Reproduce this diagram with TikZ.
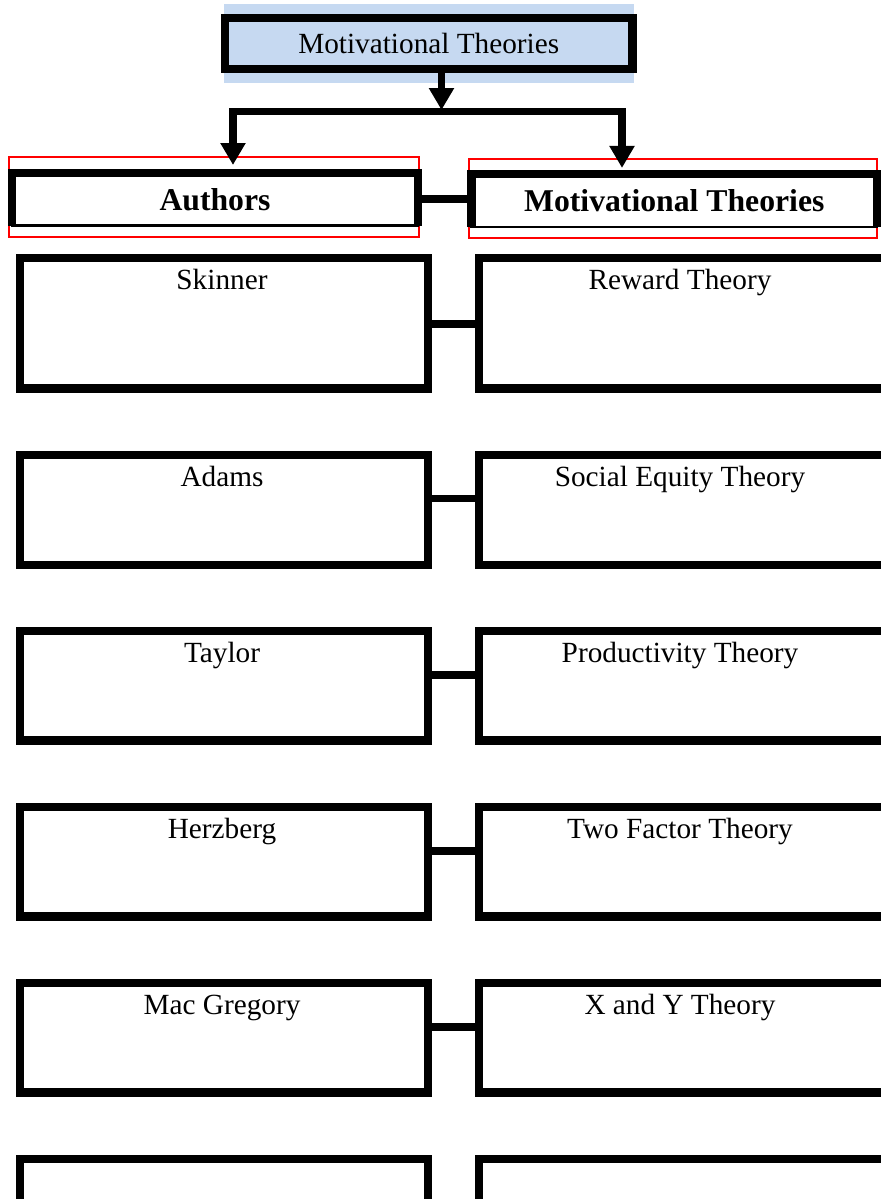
\documentclass[tikz,border=0pt]{standalone}
\usepackage{fontspec}
\setmainfont{Liberation Serif}
\usetikzlibrary{arrows.meta,calc}
\definecolor{headblue}{RGB}{198,217,241}
\begin{document}
\begin{tikzpicture}[x=0.41pt,y=-0.41pt,line join=miter,
	>={Triangle[width=9.8pt,length=9pt]},
	box/.style={draw,line width=3.3pt,inner sep=0pt,outer sep=0pt,minimum width=408*0.41pt,minimum height=#1*0.41pt},
	rbox/.style={box=#1,minimum width=410*0.41pt},
	head/.style={draw,line width=1.2pt,inner sep=0pt,outer sep=0pt,font=\fontsize{13}{15}\selectfont\bfseries},
	redframe/.style={draw=red,line width=0.55pt,inner sep=0pt,outer sep=0pt},
	link/.style={line width=3.2pt},
	txt/.style={anchor=base,inner sep=0pt,font=\fontsize{12}{14}\selectfont}]
	\useasboundingbox (0,0) rectangle (881,1199);
	\clip (0,0) rectangle (881,1199);
	% tieu de
	\fill[headblue] (224,4) rectangle (634,83);
	\node[draw,fill=headblue,line width=3.3pt,inner sep=0pt,outer sep=0pt,minimum width=407.5*0.41pt,minimum height=51*0.41pt,font=\fontsize{12}{14}\selectfont] (top) at (428.75,43.5) {Motivational Theories};
	\node[redframe,minimum width=410*0.41pt,minimum height=80*0.41pt] (selA) at (214,197) {};
	\node[redframe,minimum width=408*0.41pt,minimum height=79*0.41pt] (selT) at (673,198.5) {};
	\node[head,minimum width=406*0.41pt,minimum height=52.5*0.41pt] (authors) at (215,199.25) {Authors};
	\node[head,minimum width=405.5*0.41pt,minimum height=53*0.41pt] (theories) at (674.25,200.5) {Motivational Theories};
	\draw[line width=3.3pt] (authors.south west) |- (authors.north east) -- (authors.south east);
	\draw[line width=3.3pt] (theories.south west) |- (theories.north east) -- (theories.south east);
	\draw[link] (authors.east) -- (authors.east -| theories.west);
	\coordinate (stem) at (441.5,110);
	\coordinate (busL) at (233,111.5);
	\coordinate (busR) at (622,111.5);
	\draw[link,->] (top.south -| stem) -- (stem);
	\draw[link,<->,shorten <=3.3pt,shorten >=2.5pt] (authors.north -| busL) -- (busL) -- (busR) -- (theories.north -| busR);
	% cac hang
	\foreach \y/\h/\c/\who/\what [count=\i] in {258/130.5/66/Skinner/Reward Theory,455/110/43.5/Adams/Social Equity Theory,631/109.5/44/Taylor/Productivity Theory,807/109.5/44/Herzberg/Two Factor Theory,983/109.5/44/Mac Gregory/X and Y Theory}{
		\node[box=\h] (a\i) at (224,{\y+\h/2}) {};
		\node[rbox=\h] (m\i) at (684,{\y+\h/2}) {};
		\node[txt] (an\i) at ($(a\i.north)+(-2,31)$) {\who};
		\node[txt] (mn\i) at ($(m\i.north)+(-4,31)$) {\what};
		\draw[link] ($(a\i.north east)+(0,\c)$) -- ($(m\i.north west)+(0,\c)$);
	}
	\node[box=110] (a6) at (224,1214) {};
	\node[rbox=110] (m6) at (684,1214) {};
\end{tikzpicture}
\end{document}
